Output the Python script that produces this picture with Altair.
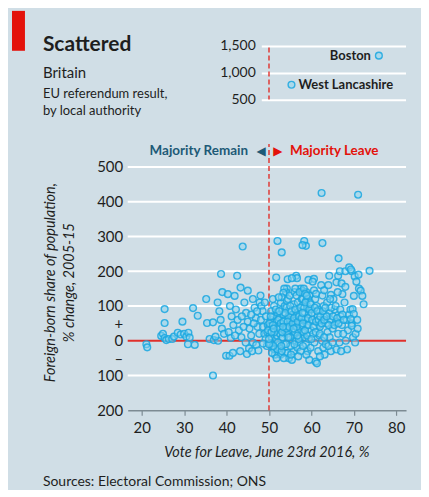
import altair as alt
import pandas as pd

# ---- data: [vote for Leave %, foreign-born share change %] ----
remain_side = [
    [21.1, -10], [21.3, -19], [24.6, 14], [25.0, 20], [25.4, 8], [25.8, 2], [26.4, 5], [25.4, 91],
    [25.4, 51], [27.2, 5], [27.6, 12], [28.5, 23], [29.2, 18], [29.6, 55], [30.0, 20], [30.5, 12],
    [31.0, 23], [31.3, 9], [30.9, -10], [32.5, -12], [32.1, 94], [33.2, 72], [35.2, 120], [35.4, 51],
    [36.8, 53], [36.8, -100], [36.0, 5], [37.0, 2], [38.0, 0], [37.4, 12], [38.7, 192], [37.9, 110],
    [38.3, 85], [38.6, 60], [39.0, 140], [38.9, 35], [39.4, 20], [39.9, -43], [40.3, 134], [40.7, -43],
    [41.9, 129], [40.8, 100], [41.2, 70], [41.6, 45], [40.5, 25], [41.0, 8], [42.5, 187], [43.3, 153],
    [43.8, 271], [45.0, 144], [42.2, 90], [42.6, 60], [42.9, 30], [43.5, 10], [43.2, -30], [44.8, -38],
    [45.3, -22], [44.2, 110], [44.6, 80], [45.0, 55], [45.4, 35], [45.8, 15], [46.2, -5], [46.6, 95],
    [46.9, 65], [47.3, 40], [47.7, 20], [47.0, -12], [47.5, -28], [46.2, 120], [47.8, 110], [48.2, 100],
    [48.5, 85], [48.1, 60], [48.6, 40], [48.9, 20], [49.2, 5], [49.5, -15], [48.6, -8], [44.0, 40],
    [43.6, 70], [42.0, 15], [45.8, 75], [46.4, 50], [47.2, 85], [48.0, 130], [49.0, 110], [49.3, 70],
    [49.7, 45], [49.6, 25], [44.5, -5], [46.0, -30], [41.5, -35],
]
leave_side = [
    [52.0, 287], [53.0, 254], [58.3, 287], [58.7, 273], [57.9, 275], [51.7, 182], [54.4, 177], [54.2, 150],
    [54.0, 140], [56.4, 187], [56.6, 180], [55.4, 180], [59.3, 175], [60.6, 178], [53.6, 150], [53.4, 138],
    [57.5, 150], [58.0, 143], [58.8, 140], [59.5, 130],
    [50.2, 20], [50.4, 60], [50.6, 10], [50.8, -20], [51.0, 70], [51.2, 100], [51.5, 30], [51.8, 55],
    [50.5, 85], [51.0, -5], [51.4, -40], [51.7, 5], [50.9, 120], [51.3, -25], [52.0, 80], [51.9, 15],
    [50.7, -35], [50.1, 40], [50.3, -8],
    [52.2, 40], [52.5, 65], [52.8, 110], [53.0, 125], [52.6, 20], [53.5, -10], [53.8, -35], [52.4, -20],
    [53.1, 90], [53.6, 30], [52.9, 5], [53.9, 60], [52.3, 125], [53.4, 75], [53.7, 100], [52.7, -40],
    [54.0, 45], [53.2, 10], [52.1, -5],
    [54.2, 115], [54.5, 120], [54.8, 90], [55.0, 60], [55.3, 30], [55.6, 0], [55.8, -30], [54.4, -35],
    [54.7, -50], [55.1, -15], [55.5, 75], [55.9, 105], [54.3, 20], [54.9, 130], [55.2, 45], [55.7, 15],
    [54.6, 70], [56.0, 140], [55.4, -55], [54.1, 95],
    [56.2, 150], [56.5, 130], [56.8, 110], [57.0, 85], [57.3, 60], [57.6, 40], [57.9, 20], [56.4, 0],
    [56.7, -20], [57.1, -5], [57.5, -30], [57.8, 100], [56.3, 50], [56.9, 30], [57.2, 140], [57.7, 120],
    [56.6, 75], [58.0, 120], [56.1, 25], [57.4, 10],
    [58.2, 150], [58.5, 135], [58.8, 115], [59.0, 100], [59.3, 75], [59.6, 55], [59.9, 30], [58.4, 10],
    [58.7, -10], [59.1, -30], [59.5, -55], [59.8, -20], [58.3, 80], [58.9, 45], [59.2, 120], [59.7, 110],
    [58.6, 60], [60.0, 90], [58.1, 25], [59.4, 5],
    [49.8, 30], [50.1, 50], [50.4, 70], [50.9, 45], [51.3, 25], [51.6, 90], [52.2, 60], [52.5, 35],
    [52.8, 50], [53.1, 25], [53.4, 55], [53.8, 80], [54.1, 35], [54.4, 55], [54.7, 40], [55.0, 100],
    [55.3, 85], [55.6, 50], [55.9, 65], [56.2, 90], [56.5, 40], [56.8, 55], [57.1, 70], [57.4, 95],
    [57.7, 65], [58.0, 50], [58.3, 95], [58.6, 110], [58.9, 130], [59.2, 65], [59.5, 90], [59.8, 105],
    [54.0, -10], [55.0, 10], [56.0, -10], [57.0, 5], [58.0, -15], [59.0, 15], [52.0, -25], [53.0, -30],
    [51.0, -15], [50.0, -10], [50.0, 5], [50.6, 25], [51.1, 35], [52.4, 85], [53.3, 40], [54.6, 10],
    [55.8, 35], [56.7, 15], [57.9, 80], [58.5, 30], [59.3, 45], [52.9, -15], [55.2, -40], [56.9, -45],
    [58.8, -40], [53.5, -50], [51.8, -50],
]
leave_far = [
    [60.3, 170], [60.6, 145], [60.9, 120], [61.2, 100], [61.5, 70], [61.8, 45], [60.4, 20], [60.7, -5],
    [61.0, -60], [61.3, -65], [61.6, -30], [61.9, 15], [60.2, 60], [61.1, 135], [61.7, 90], [62.0, 40],
    [62.4, 425], [62.6, 281], [62.3, 160], [62.6, 130], [62.9, 100], [63.2, 75], [63.5, 50], [63.8, 25],
    [62.5, 0], [62.8, -20], [63.1, -40], [63.4, -10], [63.7, 110], [64.2, 187], [64.2, 80], [64.5, 60],
    [64.6, 132], [65.0, 35], [64.3, 10], [64.6, -30], [65.2, 120], [65.5, 90], [65.8, 55], [65.9, 168],
    [66.4, 237], [66.3, 187], [66.3, 20], [66.6, -5], [66.9, 70], [67.2, 45], [66.7, 200], [67.1, 165],
    [67.3, 134], [68.0, 155], [68.0, 200], [68.9, 211], [69.5, 200], [68.3, 60], [68.6, 30], [68.9, 75],
    [69.2, 90], [69.5, 50], [70.0, 129], [69.3, 205], [69.8, 10], [68.1, 0], [65.9, -25], [63.0, 145],
    [60.1, 80], [60.5, 40], [60.8, 95], [61.1, 55], [61.4, 85], [61.7, 60], [62.1, 70], [62.4, 50],
    [62.7, 85], [63.0, 60], [63.3, 95], [63.6, 70], [64.1, 45], [64.4, 120], [64.7, 95], [65.1, 70],
    [65.4, 45], [65.7, 100], [66.1, 65], [66.4, 50], [66.8, 90], [67.3, 75], [67.6, 60], [60.0, 5],
    [61.0, 25], [62.0, 20], [63.0, 10], [64.0, -15], [65.0, -5], [67.5, 20], [68.4, -25], [67.8, 110],
    [66.2, 140], [64.0, 160], [62.0, -45], [67.0, -30],
    [71.0, 420], [69.7, 91], [70.0, 77], [69.3, 62], [69.5, 43], [71.2, 150], [71.6, 144], [72.0, 129],
    [72.3, 105], [73.7, 201], [70.2, 185], [70.6, 170], [71.1, 190], [70.4, 20], [70.8, 60], [70.3, -5],
    [70.9, 35],
]
inset_names = ["Boston", "West Lancashire"]
inset_vote = [75.9, 55.3]
inset_change = [1330, 790]
inset_ticks = [500, 1000, 1500]
x_ticks = [20, 30, 40, 50, 60, 70, 80]
y_ticks = [-200, -100, -50, 0, 50, 100, 200, 300, 400, 500]
main_grid = [-100, 100, 200, 300, 400, 500]

BG = "#d0dee6"
RED = "#e3120b"
TEAL = "#1d5a77"
DOT_FILL = "#86d3f0"
DOT_STROKE = "#1aa7e0"
INK = "#1e1e1e"
FONT = "Lato"

W, H, HI = 279, 244, 54

xs = alt.Scale(domain=[16.7, 82.3], nice=False, zero=False)
ys = alt.Scale(domain=[-200, 500], nice=False, zero=False)
iys = alt.Scale(domain=[500, 1500], nice=False, zero=False)

X_AXIS = alt.Axis(values=x_ticks, title=None, grid=False, domainColor="#7d8b93", domainWidth=1.5,
                  tickColor="#7d8b93", tickSize=5, tickWidth=1.2, labelFont=FONT, labelFontSize=15,
                  labelColor=INK, labelPadding=5)
Y_AXIS = alt.Axis(values=y_ticks, title=None, grid=False, domain=False, ticks=False, labelFont=FONT,
                  labelFontSize=15, labelColor=INK, labelPadding=5, labelOverlap=False,
                  labelExpr="datum.value == 50 ? '+' : datum.value == -50 ? '\u2013' : format(abs(datum.value), 'd')")

pts = pd.DataFrame(remain_side + leave_side + leave_far, columns=["vote", "change"])
one = pd.DataFrame({"k": [0]})


def dot(chart):
    return chart.mark_point(shape="circle", filled=True, size=46, fill=DOT_FILL, fillOpacity=0.5,
                            stroke=DOT_STROKE, strokeWidth=1.4, strokeOpacity=0.85)


def label(text, x, y, size, **kw):
    return alt.Chart(one).mark_text(text=text, fontSize=size, font=FONT, **kw).encode(
        x=alt.value(x), y=alt.value(y))


# ---------------- main panel ----------------
grid = alt.Chart(pd.DataFrame({"g": main_grid})).mark_rule(color="white", strokeWidth=2).encode(
    y=alt.Y("g:Q", scale=ys, axis=Y_AXIS), x=alt.value(0), x2=alt.value(W))
zero = alt.Chart(pd.DataFrame({"g": [0]})).mark_rule(color=RED, strokeWidth=2, opacity=0.85).encode(
    y=alt.Y("g:Q", scale=ys, axis=Y_AXIS), x=alt.value(0), x2=alt.value(W))
split = alt.Chart(pd.DataFrame({"v": [50], "a": [-200], "b": [566]})).mark_rule(
    color=RED, strokeWidth=1.5, strokeDash=[5, 3], opacity=0.8).encode(
    x=alt.X("v:Q", scale=xs, axis=X_AXIS), y=alt.Y("a:Q", scale=ys, axis=Y_AXIS), y2="b:Q")

scatter = dot(alt.Chart(pts)).encode(
    x=alt.X("vote:Q", scale=xs, axis=X_AXIS),
    y=alt.Y("change:Q", scale=ys, axis=Y_AXIS),
)

side = pd.DataFrame({"v": [50]})


def side_text(text, dx, align, color, size=13.5, font=FONT, weight="bold"):
    return alt.Chart(side).mark_text(text=text, align=align, baseline="middle", dx=dx, fontSize=size,
                                     fontWeight=weight, font=font, color=color).encode(
        x=alt.X("v:Q", scale=xs, axis=X_AXIS), y=alt.value(-16))


remain_lbl = side_text("Majority Remain", -21, "right", TEAL)
leave_lbl = side_text("Majority Leave", 21, "left", RED)
tri_l = side_text("\u25c0", -8, "center", TEAL, size=12, font="DejaVu Sans", weight="normal")
tri_r = side_text("\u25b6", 9, "center", RED, size=12, font="DejaVu Sans", weight="normal")

ytitle1 = label("Foreign-born share of population,", -77, 116, 14.5, angle=270, align="center",
                baseline="middle", fontStyle="italic", color=INK)
ytitle2 = label("% change, 2005-15", -58, 116, 14.5, angle=270, align="center",
                baseline="middle", fontStyle="italic", color=INK)
xtitle = label("Vote for Leave, June 23rd 2016, %", W / 2, 291, 14.5, align="center",
               baseline="alphabetic", fontStyle="italic", color=INK)
source = label("Sources: Electoral Commission; ONS", -85, 320, 14, align="left",
               baseline="alphabetic", color=INK)

main = alt.layer(grid, zero, split, scatter, remain_lbl, leave_lbl, tri_l, tri_r,
                 ytitle1, ytitle2, xtitle, source).properties(width=W, height=H)

# ---------------- inset ----------------
idf = pd.DataFrame({"name": inset_names, "vote": inset_vote, "change": inset_change})
igrid_df = pd.DataFrame({"g": inset_ticks, "a": [48.3] * 3, "b": [82.3] * 3})
igrid = alt.Chart(igrid_df).mark_rule(color="white", strokeWidth=2).encode(
    x=alt.X("a:Q", scale=xs, axis=None), x2="b:Q", y=alt.Y("g:Q", scale=iys, axis=None))
ilabels = alt.Chart(igrid_df).mark_text(align="right", baseline="middle", dx=-6, fontSize=14,
                                        font=FONT, color=INK).encode(
    x=alt.X("a:Q", scale=xs, axis=None), y=alt.Y("g:Q", scale=iys, axis=None),
    text=alt.Text("g:Q", format=","))
isplit = alt.Chart(pd.DataFrame({"v": [50], "a": [1480], "b": [515]})).mark_rule(
    color=RED, strokeWidth=1.5, strokeDash=[5, 3], opacity=0.8).encode(
    x=alt.X("v:Q", scale=xs, axis=None), y=alt.Y("a:Q", scale=iys, axis=None), y2="b:Q")
idots = dot(alt.Chart(idf)).encode(
    x=alt.X("vote:Q", scale=xs, axis=None), y=alt.Y("change:Q", scale=iys, axis=None))
boston = alt.Chart(idf).transform_filter("datum.name == 'Boston'").mark_text(
    align="right", baseline="middle", dx=-8, fontSize=13, fontWeight="bold", font=FONT, color=INK).encode(
    x=alt.X("vote:Q", scale=xs, axis=None), y=alt.Y("change:Q", scale=iys, axis=None), text="name:N")
westl = alt.Chart(idf).transform_filter("datum.name != 'Boston'").mark_text(
    align="left", baseline="middle", dx=7, fontSize=13, fontWeight="bold", font=FONT, color=INK).encode(
    x=alt.X("vote:Q", scale=xs, axis=None), y=alt.Y("change:Q", scale=iys, axis=None), text="name:N")

redbox = alt.Chart(one).mark_rect(color=RED).encode(
    x=alt.value(-116), x2=alt.value(-103), y=alt.value(-35.7), y2=alt.value(4.3))
t1 = label("Scattered", -85, 4.3, 21, align="left", baseline="alphabetic", fontWeight="bold", color=INK)
t2 = label("Britain", -85, 31.3, 15, align="left", baseline="alphabetic", color=INK)
t3 = label("EU referendum result,", -85, 51.3, 13, align="left", baseline="alphabetic", color=INK)
t4 = label("by local authority", -85, 68.8, 13, align="left", baseline="alphabetic", color=INK)

inset = alt.layer(igrid, ilabels, isplit, idots, boston, westl, redbox, t1, t2, t3, t4).properties(
    width=W, height=HI)

chart = alt.vconcat(inset, main, spacing=66.7, bounds="flush",
                    padding={"left": 4, "top": 2, "right": 14, "bottom": 0}).configure(
    background=BG, font=FONT).configure_view(stroke=None)

chart.save("out.html", embed_options={"renderer": "svg", "actions": False})
